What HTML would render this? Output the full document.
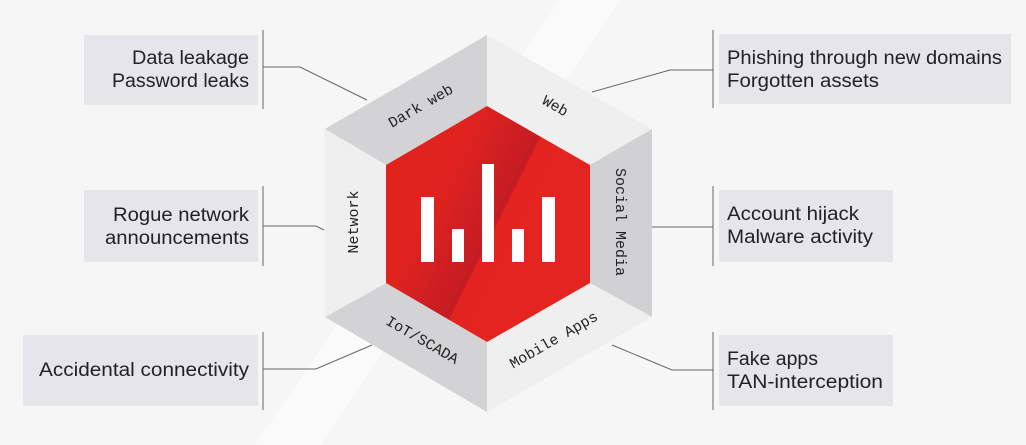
<!DOCTYPE html>
<html><head><style>
html,body{margin:0;padding:0;background:#f6f6f6;}
svg{display:block}
.t{font-family:"Liberation Sans",sans-serif;font-size:19px;fill:#222;}
.m{font-family:"Liberation Mono",monospace;font-size:15px;fill:#222;}
</style></head><body>
<svg width="1026" height="445" viewBox="0 0 1026 445" xmlns="http://www.w3.org/2000/svg">
<defs>
<linearGradient id="red" gradientUnits="userSpaceOnUse" x1="430" y1="200" x2="530" y2="250">
<stop offset="0" stop-color="#e1231f"/><stop offset="0.35" stop-color="#d01f22"/><stop offset="0.62" stop-color="#c41c23"/><stop offset="0.64" stop-color="#e3231f"/><stop offset="1" stop-color="#e4241f"/>
</linearGradient>
</defs>
<rect width="1026" height="445" fill="#f6f6f6"/>
<polygon points="560,0 620,0 320,445 255,445" fill="#fafafa"/>
<rect x="84" y="35" width="174" height="70" fill="#e6e5e9"/>
<rect x="84" y="190" width="174" height="72" fill="#e6e5e9"/>
<rect x="23" y="335" width="235" height="71" fill="#e6e5e9"/>
<rect x="719" y="34" width="292" height="70" fill="#e6e5e9"/>
<rect x="719" y="190" width="174" height="72" fill="#e6e5e9"/>
<rect x="719" y="335" width="174" height="71" fill="#e6e5e9"/>
<g stroke="#666" stroke-width="1" fill="none">
<line x1="263" y1="30" x2="263" y2="109"/>
<line x1="263" y1="186" x2="263" y2="266"/>
<line x1="263" y1="332" x2="263" y2="410"/>
<line x1="713" y1="30" x2="713" y2="108"/>
<line x1="713" y1="186" x2="713" y2="266"/>
<line x1="713" y1="332" x2="713" y2="410"/>
<polyline points="263,67 300,67 367,100"/>
<polyline points="263,226 316,226 324,230"/>
<polyline points="263,369 316,369 372,345"/>
<polyline points="592,92 670,70 713,70"/>
<polyline points="652,227 713,227"/>
<polyline points="612,345 672,370 713,370"/>
</g>
<polygon points="487,35 325,129 386,165 487,106" fill="#d3d2d5"/>
<polygon points="487,35 652,129 590,165 487,106" fill="#efeff0"/>
<polygon points="652,129 652,317 590,283 590,165" fill="#d1d0d3"/>
<polygon points="652,317 487,412 487,342 590,283" fill="#efeff0"/>
<polygon points="487,412 325,317 386,283 487,342" fill="#d3d2d5"/>
<polygon points="325,317 325,129 386,165 386,283" fill="#efeff0"/>
<polygon points="487,106 590,165 590,283 487,342 386,283 386,165" fill="url(#red)"/>
<g fill="#fff">
<rect x="421" y="197" width="13" height="65"/>
<rect x="452" y="229" width="12" height="33"/>
<rect x="482" y="164" width="12" height="98"/>
<rect x="512" y="229" width="12" height="33"/>
<rect x="542" y="197" width="13" height="65"/>
</g>
<text class="m" text-anchor="middle" transform="translate(423,110) rotate(-30)">Dark web</text>
<text class="m" text-anchor="middle" transform="translate(553,110) rotate(30)">Web</text>
<text class="m" text-anchor="middle" transform="translate(616,222) rotate(90)">Social Media</text>
<text class="m" text-anchor="middle" transform="translate(556,344) rotate(-30)">Mobile Apps</text>
<text class="m" text-anchor="middle" transform="translate(420,344) rotate(30)">IoT/SCADA</text>
<text class="m" text-anchor="middle" transform="translate(358,222) rotate(-90)">Network</text>
<text class="t" x="249" y="64" text-anchor="end" textLength="117" lengthAdjust="spacingAndGlyphs">Data leakage</text>
<text class="t" x="249" y="87" text-anchor="end" textLength="137" lengthAdjust="spacingAndGlyphs">Password leaks</text>
<text class="t" x="249" y="221" text-anchor="end" textLength="136" lengthAdjust="spacingAndGlyphs">Rogue network</text>
<text class="t" x="249" y="244" text-anchor="end" textLength="144" lengthAdjust="spacingAndGlyphs">announcements</text>
<text class="t" x="249" y="376" text-anchor="end" textLength="210" lengthAdjust="spacingAndGlyphs">Accidental connectivity</text>
<text class="t" x="727" y="64" textLength="275" lengthAdjust="spacingAndGlyphs">Phishing through new domains</text>
<text class="t" x="727" y="87" textLength="152" lengthAdjust="spacingAndGlyphs">Forgotten assets</text>
<text class="t" x="727" y="220" textLength="132" lengthAdjust="spacingAndGlyphs">Account hijack</text>
<text class="t" x="727" y="243" textLength="146" lengthAdjust="spacingAndGlyphs">Malware activity</text>
<text class="t" x="727" y="365" textLength="91" lengthAdjust="spacingAndGlyphs">Fake apps</text>
<text class="t" x="727" y="388" textLength="156" lengthAdjust="spacingAndGlyphs">TAN-interception</text>
</svg>
</body></html>
